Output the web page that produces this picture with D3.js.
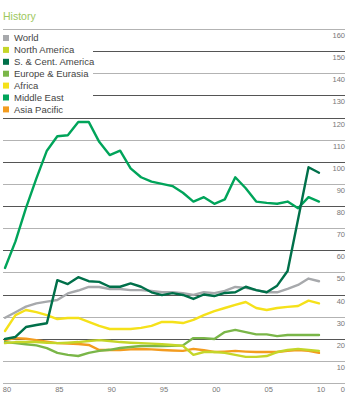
<!DOCTYPE html>
<html>
<head>
<meta charset="utf-8">
<script src="https://cdn.jsdelivr.net/npm/d3@7"></script>
<style>
  body { margin: 0; background: #fff; }
  svg text { font-family: "Liberation Sans", Arial, sans-serif; }
</style>
</head>
<body>
<div class="chart"></div>
<script>
// ---- data ----
const years = d3.range(1980, 2011);

const world        = [29.5,32,34.5,36,36.8,37.5,40.5,41.8,43.4,43.4,42.5,42.5,42,42,41.6,41,41,40.6,39.8,41,40.6,41.6,43.4,43,42,41,41,42.5,44.3,47.2,46];
const northAmerica = [18,18.5,18.5,18.5,18.2,18,18.2,18.5,19,19.4,19,18.5,18.2,18,17.8,17.5,17.2,16.8,12.7,14,14,13.6,12.7,11.8,11.8,12.2,14,14.9,15.4,14.9,14.5];
const scAmerica    = [19.9,20.8,25.3,26.2,27,46.5,44.7,47.8,46,45.7,43.5,43.5,45,43.5,41,39.7,40.6,39.8,38,40,39.3,40.7,41,43.5,42,41,44,50.6,74,97.5,95];
const europe       = [18.5,18,17.5,17,15.8,13.6,12.7,12.2,13.6,14.5,15,15.8,16.3,16.7,16.7,16.7,16.8,17,20.3,20.3,19.9,23,24,23,22,22,21.2,21.7,21.7,21.7,21.7];
const africa       = [23.5,30.7,33,32,30.7,28.9,29.4,29.4,27.6,25.8,24.4,24.4,24.4,24.9,25.8,27.6,27.6,27.1,28.5,30.7,32.5,33.9,35.3,36.6,33.9,33,33.9,34.4,34.8,37.2,36];
const middleEast   = [52,64,79,92.5,105,111.5,112,118,118,109,103,105,97,93,91,90,89,86,82,84,81,83,93,88,82,81.4,81,82,79,84,82];
const asiaPacific  = [19.4,20.3,20,19.4,18.7,18,17.8,17.6,17.2,14.9,14.9,14.9,15.2,15.4,15.2,14.9,14.7,14.5,15.4,14.8,14,14.2,14.5,14.2,14,14,14,14.5,14.9,14.5,13.6];

const seriesNames  = ['World','North America','S. & Cent. America','Europe & Eurasia','Africa','Middle East','Asia Pacific'];
const seriesValues = [world, northAmerica, scAmerica, europe, africa, middleEast, asiaPacific];
const seriesColors = ['#a7a9ac','#c5d629','#00704a','#7ab648','#f5e11a','#00a45a','#f39c1f'];
// draw order (index into the arrays above), last on top
const drawOrder = [4, 6, 3, 1, 0, 5, 2];

const yTicks = d3.range(0, 161, 10);
const darkTicks = [150,130,120,100,80,60,40,20];
const xTickYears = [1980,1985,1990,1995,2000,2005,2010];

// ---- structure ----
const width = 354, height = 400;

const svg = d3.select('.chart')
  .append('svg')
  .attr('width', width)
  .attr('height', height);

const x = d3.scaleLinear().domain([1980, 2010]).range([5, 319]);
const y = d3.scaleLinear().domain([0, 160]).range([383, 29]);

//=====================TITLE=====================
svg.append('text')
  .attr('x', 3)
  .attr('y', 20)
  .attr('font-size', 10.5)
  .attr('fill', '#9dc75b')
  .text('History');

//=====================GRID=====================
const grid = svg.append('g').attr('class', 'grid');

grid.selectAll('line')
  .data(yTicks)
  .enter()
  .append('line')
  .attr('x1', d => (d >= 130 && d <= 150) ? 93 : 3)
  .attr('x2', 345)
  .attr('y1', d => Math.round(y(d)) + 0.5)
  .attr('y2', d => Math.round(y(d)) + 0.5)
  .attr('stroke', d => darkTicks.includes(d) ? '#555' : '#b3b3b3')
  .attr('stroke-width', 1.2);

grid.selectAll('text')
  .data(yTicks)
  .enter()
  .append('text')
  .attr('x', 345)
  .attr('y', d => y(d) + 9)
  .attr('text-anchor', 'end')
  .attr('font-size', 7.5)
  .attr('fill', '#777')
  .text(d => d);

//=====================X AXIS LABELS=====================
svg.append('g')
  .selectAll('text')
  .data(xTickYears)
  .enter()
  .append('text')
  .attr('x', d => x(d) + 2)
  .attr('y', 392)
  .attr('text-anchor', 'middle')
  .attr('font-size', 7.5)
  .attr('fill', '#777')
  .text(d => String(d).slice(2));

//=====================LINES=====================
const line = d3.line()
  .x((d, i) => x(years[i]))
  .y(d => y(d));

svg.append('g')
  .attr('class', 'lines')
  .selectAll('path')
  .data(drawOrder)
  .enter()
  .append('path')
  .attr('d', i => line(seriesValues[i]))
  .attr('fill', 'none')
  .attr('stroke', i => seriesColors[i])
  .attr('stroke-width', 2.4)
  .attr('stroke-linejoin', 'round')
  .attr('stroke-linecap', 'round');

//=====================LEGEND=====================
const legend = svg.append('g')
  .attr('class', 'legend')
  .selectAll('g')
  .data(seriesNames)
  .enter()
  .append('g')
  .attr('transform', (d, i) => `translate(3, ${35 + i * 11.9})`);

legend.append('rect')
  .attr('width', 6)
  .attr('height', 6)
  .attr('fill', (d, i) => seriesColors[i]);

legend.append('text')
  .attr('x', 11)
  .attr('y', 6.3)
  .attr('font-size', 9.5)
  .attr('fill', '#444')
  .text(d => d);
</script>
</body>
</html>
